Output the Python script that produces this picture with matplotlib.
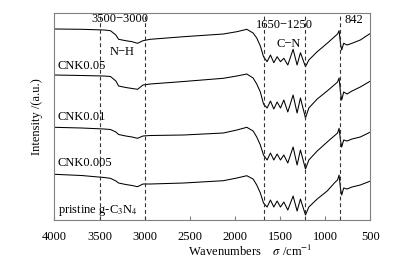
import numpy as np
import matplotlib
matplotlib.use("Agg")
import matplotlib.pyplot as plt

plt.rcParams["font.family"] = ["Liberation Serif", "DejaVu Serif"]
plt.rcParams["mathtext.fontset"] = "stix"

# wavenumber grid (cm^-1)
wavenumber = [4000, 3700, 3450, 3380, 3320, 3290, 3210, 3140, 3080, 3020,
              2940, 2570, 2130, 1980, 1870, 1800, 1760, 1720, 1685, 1645,
              1608, 1571, 1534, 1497, 1460, 1416, 1357, 1313, 1276, 1220,
              1183, 1090, 980, 890, 865, 848, 833, 819, 797, 760,
              705, 613, 500]

# offset spectra, top to bottom (a.u.)
curve_top = [191, 190.7, 190, 189.3, 185, 180.7, 179.3, 178.3, 176.7, 179.3,
             180.7, 183.3, 186, 188.3, 190.7, 187, 182, 174, 163.3, 158.3,
             165, 157.3, 163.3, 158.3, 161.7, 155, 170.7, 155, 167.3, 153.3,
             160, 168.3, 176.7, 184, 186, 189.3, 176.7, 170, 176.7, 175,
             176.7, 180, 186.7]
curve_005 = [145, 144.5, 144, 143.5, 139, 134, 132.5, 131.5, 130.7, 135,
             136, 138.5, 141.7, 144, 146, 142, 136, 128, 116, 112,
             119, 111, 118, 112, 120, 108, 125, 107, 122, 102,
             112, 121, 129, 136, 138, 142, 128, 120, 128, 126,
             129, 133, 139]
curve_001 = [92.7, 92, 91, 90.5, 88, 85.5, 84, 83, 81.7, 84,
             84.5, 85, 87, 90, 92.7, 89, 83, 75, 65, 60,
             67, 60, 66, 60, 65, 57, 73, 55, 70, 51,
             60, 69, 78, 85, 87, 91.7, 80, 73, 80, 79,
             81, 83, 88]
curve_0005 = [45.7, 44.5, 42.5, 41.7, 39, 37, 35.5, 34.5, 33.3, 36,
              36, 37, 39.3, 42, 44.3, 41, 35, 27, 17, 13,
              20, 13, 19, 13, 18, 10, 24, 9, 21, 5,
              13, 21, 29, 38, 40, 45, 32, 25, 32, 31,
              33, 35, 39]

sample_labels = ["CNK0.05", "CNK0.01", "CNK0.005", "pristine g-C$_3$N$_4$"]
label_y = [154, 103, 57, 10]
band_lines = [3500, 3000, 1675, 1225, 842]

fig = plt.figure(figsize=(3.96, 2.6), dpi=100)
ax = fig.add_axes([0.1376, 0.1538, 0.798, 0.7962])

for c in [curve_top, curve_005, curve_001, curve_0005]:
    ax.plot(wavenumber, c, color="black", lw=0.75)

for w in band_lines:
    ax.axvline(w, color="#333333", lw=0.8, ls=(0, (3.5, 2.5)))

for lab, y in zip(sample_labels, label_y):
    ax.text(3965, y, lab, fontsize=9, va="center", ha="left")

ax.text(3275, 201, "3500\u22123000", fontsize=9, ha="center", va="center")
ax.text(3250, 168, "N\u2212H", fontsize=9, ha="center", va="center")
ax.text(1453, 195, "1650\u22121250", fontsize=9, ha="center", va="center")
ax.text(1408, 176, "C\u2212N", fontsize=9, ha="center", va="center")
ax.text(689, 200, "842", fontsize=9, ha="center", va="center")

ax.set_xlim(4000, 500)
ax.set_ylim(0, 207)
ax.set_xticks([4000, 3500, 3000, 2500, 2000, 1500, 1000, 500])
ax.set_yticks([])
ax.tick_params(axis="x", direction="in", length=3, width=0.8,
               color="#808080", labelsize=9, pad=8)
for s in ax.spines.values():
    s.set_color("#808080")
    s.set_linewidth(0.8)

ax.set_ylabel("Intensity /(a.u.)", fontsize=9, labelpad=8)
fig.text(0.633, 0.032, "Wavenumbers    $\\sigma$ /cm$^{-1}$", fontsize=9,
         ha="center", va="center")

fig.savefig("out.png", dpi=100)
